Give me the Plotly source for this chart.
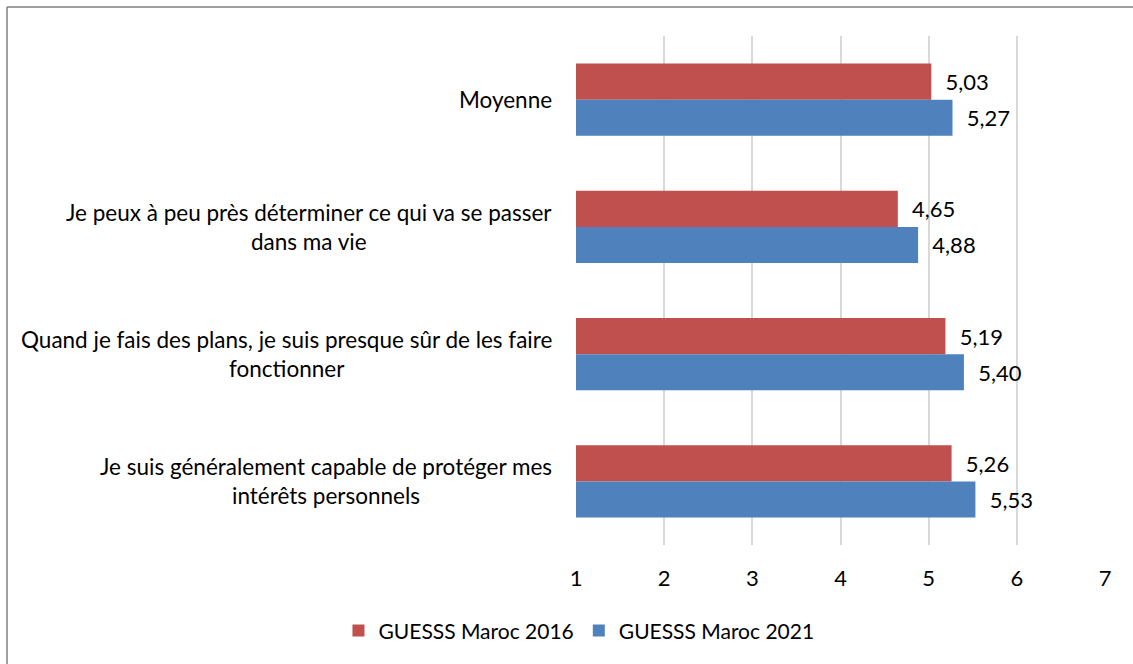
import plotly.graph_objects as go

categories = [
    "Moyenne",
    "Je peux à peu près déterminer ce qui va se passer<br>dans ma vie",
    "Quand je fais des plans, je suis presque sûr de les faire<br>fonctionner",
    "Je suis généralement capable de protéger mes<br>intérêts personnels",
]
series_names = ["GUESSS Maroc 2016", "GUESSS Maroc 2021"]
values_2016 = [5.03, 4.65, 5.19, 5.26]
values_2021 = [5.27, 4.88, 5.40, 5.53]
x_ticks = [1, 2, 3, 4, 5, 6, 7]

colors = ["#C0504D", "#4F81BD"]
FONT = "Lato, 'Open Sans', sans-serif"
FS = 22.5
NB = "\u00a0"

fig = go.Figure()
for name, vals, col in zip(series_names, [values_2016, values_2021], colors):
    fig.add_trace(go.Bar(
        y=categories, x=vals, name=name, orientation="h",
        marker=dict(color=col, line=dict(width=0)),
        base=0,
        texttemplate=NB * 2 + "%{x:.2f}", textposition="outside",
        textfont=dict(family=FONT, size=22, color="#000000"),
        cliponaxis=False,
    ))

L, R, T, B = 576, 28, 36, 119
W, H = 1133, 664
pw, ph = W - L - R, H - T - B

annotations = []
for c in categories:
    annotations.append(dict(
        x=0, xref="paper", y=c, yref="y", text=c, showarrow=False,
        xanchor="right", yanchor="middle", align="center", xshift=-22,
        font=dict(family=FONT, size=FS, color="#000000"),
    ))

# outer border (left and top edges visible)
bx0 = (7 - L) / pw
by1 = (H - B - 7) / ph
shapes = [
    dict(type="line", xref="paper", yref="paper", x0=bx0, x1=bx0, y0=by1, y1=-1, line=dict(color="#7F7F7F", width=1.5)),
    dict(type="line", xref="paper", yref="paper", x0=bx0, x1=2, y0=by1, y1=by1, line=dict(color="#7F7F7F", width=1.5)),
]

fig.update_layout(
    width=W, height=H,
    margin=dict(l=L, r=R, t=T, b=B),
    barmode="group", bargap=0.433, bargroupgap=0,
    separators=", ",
    plot_bgcolor="white", paper_bgcolor="white",
    font=dict(family=FONT, size=22, color="#000000"),
    xaxis=dict(
        range=[1, 7], tickvals=x_ticks, showgrid=True, gridcolor="#D9D9D9", gridwidth=1.5,
        zeroline=False, showline=False, ticks="", ticklabelstandoff=18,
        tickfont=dict(family=FONT, size=22),
    ),
    yaxis=dict(
        autorange="reversed", showticklabels=False, showgrid=False, zeroline=False, showline=False,
    ),
    legend=dict(
        orientation="h", xref="container", yref="container", x=0.511, y=0.05,
        xanchor="center", yanchor="middle", font=dict(family=FONT, size=21),
        itemwidth=30, traceorder="normal",
    ),
    annotations=annotations,
    shapes=shapes,
    showlegend=True,
)

fig.write_html(
    "out.html",
    config={"displayModeBar": False},
    post_script="document.body.style.margin='0';document.body.style.overflow='hidden';",
)
